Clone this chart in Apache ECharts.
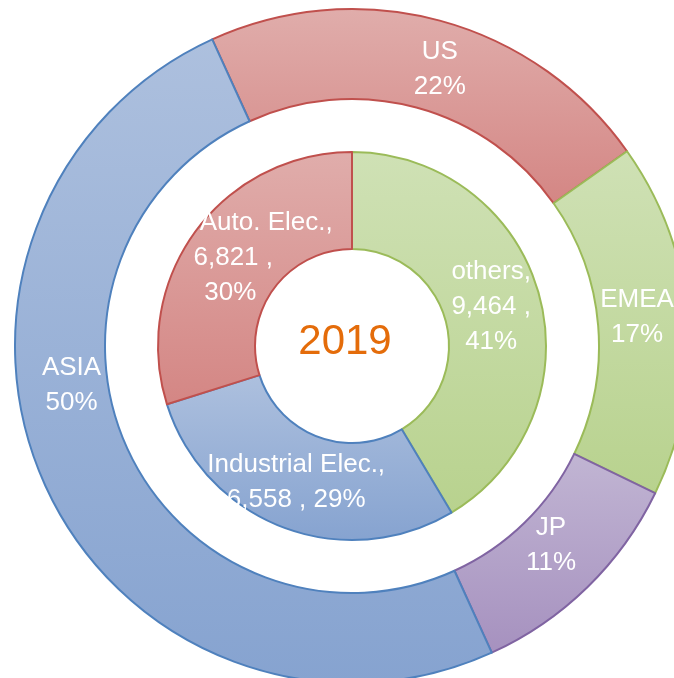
<!DOCTYPE html>
<html>
<head>
<meta charset="utf-8">
<script src="https://cdn.jsdelivr.net/npm/echarts@6/dist/echarts.min.js"></script>
<style>
  html, body { margin: 0; padding: 0; background: #fff; }
  #main { width: 674px; height: 678px; }
</style>
</head>
<body>
<div id="main"></div>
<script>
// outer ring: regional share (%)
var regionNames = ['US', 'EMEA', 'JP', 'ASIA'];
var regionShares = [22, 17, 11, 50];
// inner ring: segment sales
var segmentNames = ['others', 'Industrial Elec.', 'Auto. Elec.'];
var segmentSales = [9464, 6558, 6821];
var yearText = '2019';

// colours: [border, gradient top, gradient bottom]
var palette = {
	red: ['#c0504d', '#e0adab', '#d48684'],
	blue: ['#4f81bd', '#adc0de', '#86a3d0'],
	green: ['#9bbb59', '#cfe1b5', '#b8d28e'],
	purple: ['#8064a2', '#c1b5d3', '#a691bf']
};
var regionColors = ['red', 'green', 'purple', 'blue'];
var segmentColors = ['green', 'blue', 'red'];
var regionOffsets = [[11, 8], [-9, -5], [-7, -12], [-12, -83]];
var segmentOffsets = [[-4, 0], [-3, -2], [34, 0]];
// extra right padding per label line (shifts the line left, like the wrapped Excel labels)
var segmentLinePad = [[0, 0, 0], [0, 0], [0, 66, 72]];

function style(key) {
	var c = palette[key];
	return {
		borderColor: c[0],
		borderWidth: 2,
		color: new echarts.graphic.LinearGradient(0, 0, 0, 1, [
			{offset: 0, color: c[1]},
			{offset: 1, color: c[2]}
		])
	};
}

function fmt(n) {
	return n.toLocaleString('en-US');
}

var labelFont = {
	color: '#fff',
	fontFamily: 'Liberation Sans',
	fontSize: 26,
	lineHeight: 35
};

function lineRich(pads) {
	var rich = {};
	pads.forEach(function (p, k) {
		rich['l' + k] = Object.assign({padding: [0, p, 0, 0]}, labelFont);
	});
	return rich;
}

var regionData = regionNames.map(function (name, i) {
	return {
		name: name,
		value: regionShares[i],
		itemStyle: style(regionColors[i]),
		label: {offset: regionOffsets[i]}
	};
});

var segmentData = segmentNames.map(function (name, i) {
	return {
		name: name,
		value: segmentSales[i],
		itemStyle: style(segmentColors[i]),
		label: {offset: segmentOffsets[i], rich: lineRich(segmentLinePad[i])}
	};
});

var myChart = echarts.init(document.getElementById('main'));
var option = {
	animation: false,
	graphic: [{
		type: 'text',
		x: 345,
		y: 342,
		style: {
			text: yearText,
			fill: '#e46c0a',
			font: '42px "Liberation Sans"',
			textAlign: 'center',
			textVerticalAlign: 'middle'
		}
	}],
	series: [
		{
			name: 'region',
			type: 'pie',
			center: [352, 346],
			radius: [247, 337],
			startAngle: 114.5,
			clockwise: true,
			silent: true,
			label: Object.assign({
				position: 'inside',
				formatter: function (p) {
					return p.name + '\n' + p.value + '%';
				}
			}, labelFont),
			labelLine: {show: false},
			data: regionData
		},
		{
			name: 'segment',
			type: 'pie',
			center: [352, 346],
			radius: [97, 194],
			startAngle: 90,
			clockwise: true,
			silent: true,
			label: Object.assign({
				position: 'inside',
				formatter: function (p) {
					var pct = Math.round(p.percent) + '%';
					var lines = p.dataIndex === 1
						? [p.name + ',', fmt(p.value) + ' , ' + pct]
						: [p.name + ',', fmt(p.value) + ' ,', pct];
					return lines.map(function (t, k) {
						return '{l' + k + '|' + t + '}';
					}).join('\n');
				}
			}, labelFont),
			labelLine: {show: false},
			data: segmentData
		}
	]
};
myChart.setOption(option);
</script>
</body>
</html>
